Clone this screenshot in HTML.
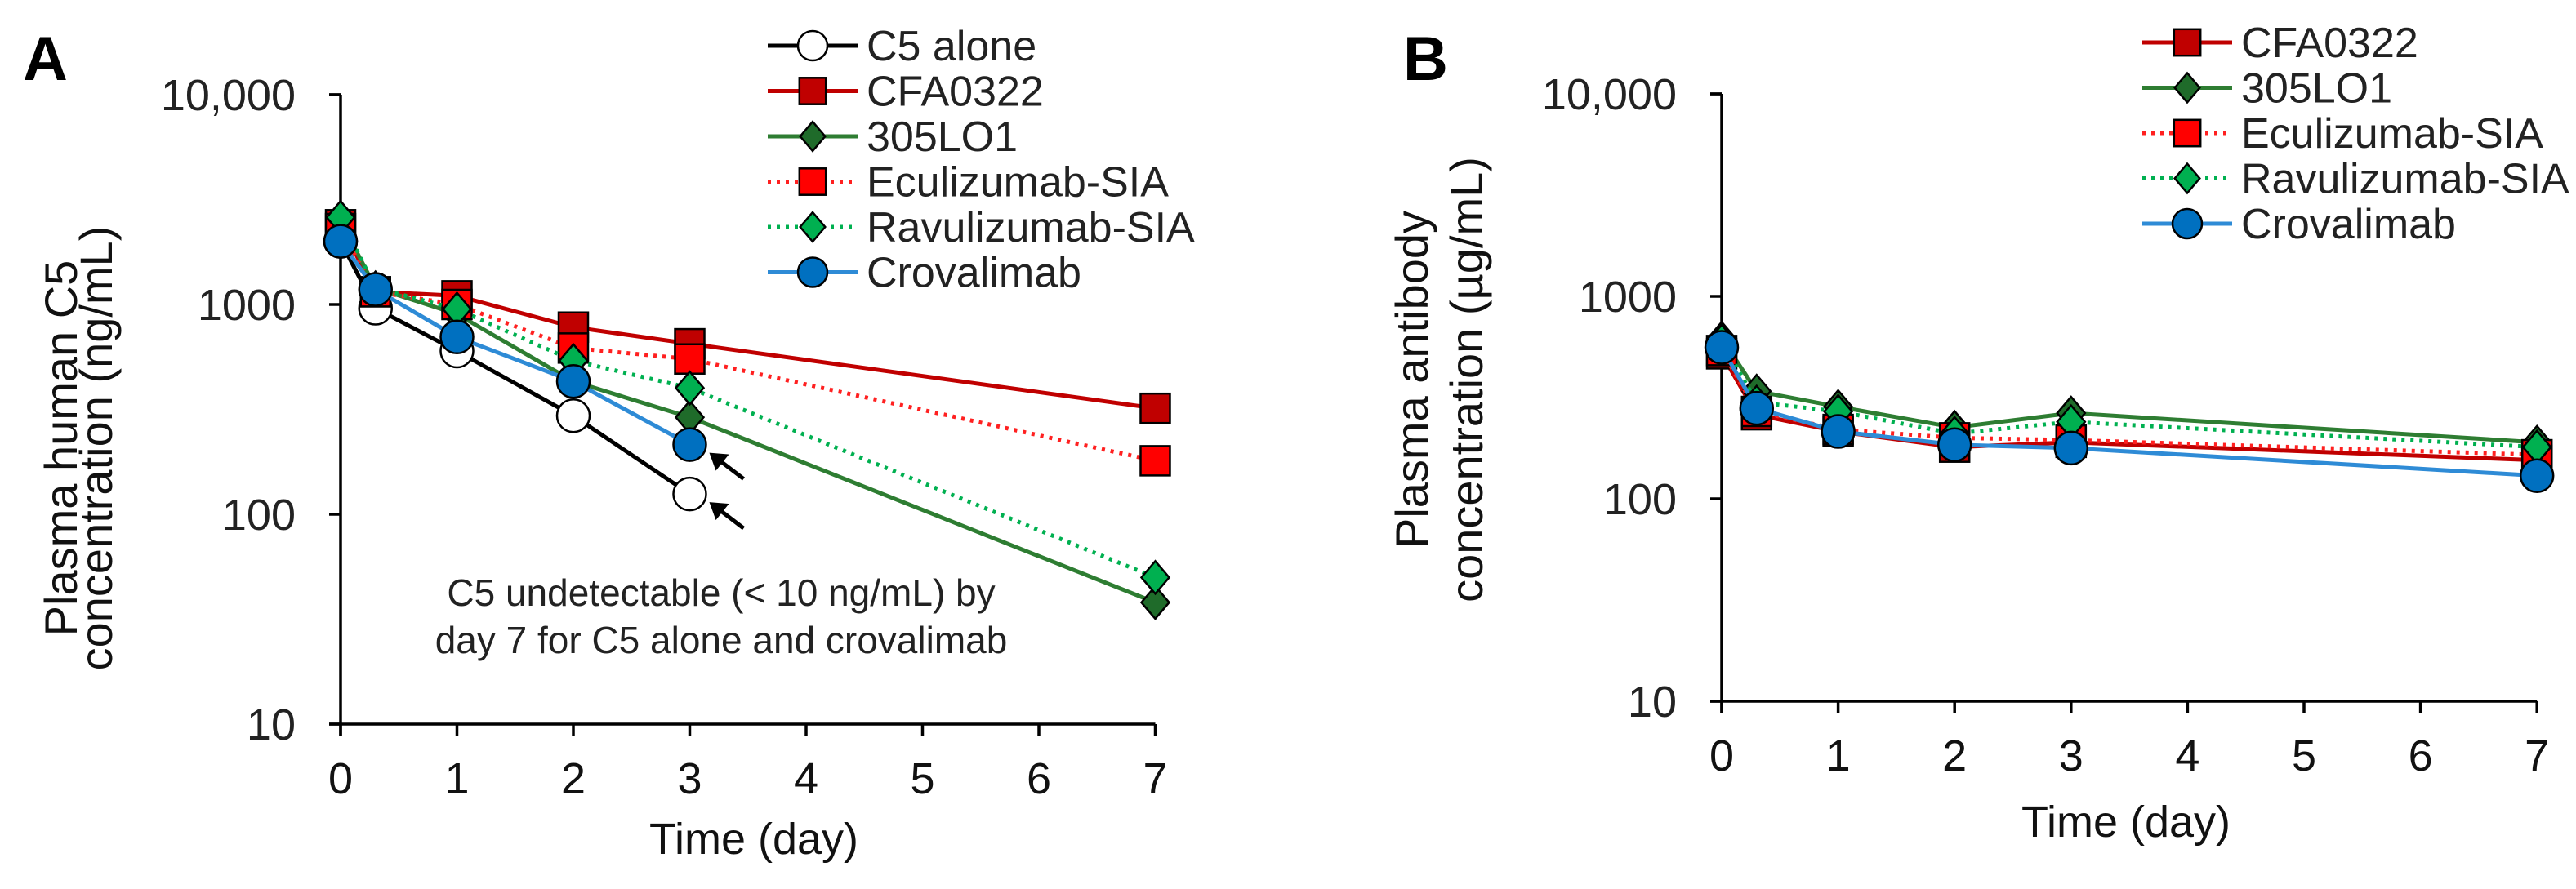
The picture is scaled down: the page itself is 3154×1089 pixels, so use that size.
<!DOCTYPE html>
<html><head><meta charset="utf-8"><style>
html,body{margin:0;padding:0;background:#fff;}
svg{display:block;font-family:"Liberation Sans",Arial,sans-serif;}
</style></head><body>
<svg id="fig" width="3154" height="1089" viewBox="0 0 3154 1089"></svg>
<script>
const days = [0, 0.3, 1, 2, 3, 7];
const xTicks = [0,1,2,3,4,5,6,7];
const yTicksA = [10, 100, 1000, 10000];
const yTickLabelsA = ["10","100","1000","10,000"];
const c5Alone = [2000, 960, 600, 295, 125];
const cfaA = [2400, 1150, 1100, 780, 650, 320];
const l305A = [2500, 1200, 900, 430, 290, 38];
const ecuA = [2300, 1150, 1000, 620, 550, 180];
const ravA = [2600, 1200, 950, 540, 400, 50];
const crovA = [2000, 1180, 700, 430, 215];
const cfaB = [520, 260, 215, 180, 190, 155];
const l305B = [620, 340, 285, 225, 265, 190];
const ecuB = [540, 270, 220, 200, 195, 165];
const ravB = [600, 300, 270, 210, 240, 180];
const crovB = [560, 280, 215, 185, 178, 130];

const NS="http://www.w3.org/2000/svg";
const svg=document.getElementById('fig');
function el(tag,attrs,parent){const e=document.createElementNS(NS,tag);for(const k in attrs)e.setAttribute(k,attrs[k]);(parent||svg).appendChild(e);return e;}
function txt(s,attrs,parent){const e=el('text',attrs,parent);e.textContent=s;return e;}

const styles={
 c5:{line:'#000',dash:null,marker:'circle',fill:'#fff'},
 cfa:{line:'#c00000',dash:null,marker:'square',fill:'#c00000'},
 l305:{line:'#2e7d32',dash:null,marker:'diamond',fill:'#1f6b2a'},
 ecu:{line:'#ff2020',dash:'4 7',marker:'square',fill:'#ff0000'},
 rav:{line:'#00b050',dash:'4 7',marker:'diamond',fill:'#00b050'},
 crov:{line:'#2e8bd6',dash:null,marker:'circle',fill:'#0070c0'}
};
function marker(g,type,x,y,fill,r){
 let m;
 if(type==='circle')m=el('circle',{cx:x,cy:y,r:r,fill:fill,stroke:'#000','stroke-width':2.5},g);
 else if(type==='square')m=el('rect',{x:x-r*0.9,y:y-r*0.9,width:r*1.8,height:r*1.8,fill:fill,stroke:'#000','stroke-width':2.5},g);
 else m=el('polygon',{points:`${x},${y-r} ${x+r*0.85},${y} ${x},${y+r} ${x-r*0.85},${y}`,fill:fill,stroke:'#000','stroke-width':2.5},g);
 
 
}
function panel(P){
 const g=el('g',{});
 
 
 const xs=d=>P.x0+d*P.dx;
 const ys=v=>P.yb-(Math.log10(v)-1)*P.dec;
 const ax=el('path',{d:`M${P.x0} ${ys(10000)} H${P.x0-14} M${P.x0} ${ys(10000)} V${P.yb+14} M${P.x0-14} ${P.yb} H${xs(7)}`,stroke:'#000','stroke-width':3.5,fill:'none'},g);
 
 yTicksA.forEach((v,i)=>{
  el('line',{x1:P.x0-14,x2:P.x0,y1:ys(v),y2:ys(v),stroke:'#000','stroke-width':3.5},g);
  const t=txt(yTickLabelsA[i],{x:P.x0-55,y:ys(v)+19,'font-size':54,'text-anchor':'end',fill:'#222'},g);
  
 });
 xTicks.forEach(d=>{
  el('line',{x1:xs(d),x2:xs(d),y1:P.yb,y2:P.yb+14,stroke:'#000','stroke-width':3.5},g);
  const t=txt(String(d),{x:xs(d),y:P.xlabY,'font-size':54,'text-anchor':'middle',fill:'#111'},g);
  
 });
 const xt=txt('Time (day)',{x:P.xtX,y:P.xtY,'font-size':54,'text-anchor':'middle',fill:'#111'},g);
 
 P.ytitle.forEach((s,i)=>{
  const t=txt(s,{x:0,y:0,'font-size':56,'text-anchor':'middle',fill:'#111',transform:`translate(${P.ytX[i]},${P.ytY}) rotate(-90)`},g);
  
 });
 const pl=txt(P.label,{x:P.labX,y:P.labY,'font-size':76,'font-weight':'bold',fill:'#000'},g);
 
 P.series.forEach(s=>{
  const st=styles[s.key];
  const sg=el('g',{},g);
  
  
  const pts=s.vals.map((v,i)=>[xs(days[i]),ys(v)]);
  const ln=el('polyline',{points:pts.map(p=>p.join(',')).join(' '),fill:'none',stroke:st.line,'stroke-width':5},sg);
  if(st.dash)ln.setAttribute('stroke-dasharray',st.dash);
  
  pts.forEach(p=>marker(sg,st.marker,p[0],p[1],st.fill,P.r));
 });
 P.legend.forEach((k,i)=>{
  const st=styles[k.key];const y=P.legY+i*P.legDy;
  const lg=el('g',{},g);
  
  
  const l=el('line',{x1:P.legX-55,x2:P.legX+55,y1:y,y2:y,stroke:st.line,'stroke-width':5},lg);
  if(st.dash)l.setAttribute('stroke-dasharray',st.dash);
  marker(lg,st.marker,P.legX,y,st.fill,18);
  txt(k.label,{x:P.legX+66,y:y+18,'font-size':52,fill:'#222'},lg);
 });
 return {g,xs,ys};
}
const A=panel({name:'panel-a',label:'A',labX:28,labY:98,x0:417,dx:142.5,yb:887,dec:257,xlabY:972,xtX:923,xtY:1046,
 ytitle:['Plasma human C5','concentration (ng/mL)'],ytX:[94,137],ytY:549,r:20,
 series:[{key:'c5',label:'C5-alone',vals:c5Alone},{key:'cfa',label:'CFA0322',vals:cfaA},{key:'l305',label:'305LO1',vals:l305A},
 {key:'ecu',label:'Eculizumab-SIA',vals:ecuA},{key:'rav',label:'Ravulizumab-SIA',vals:ravA},{key:'crov',label:'Crovalimab',vals:crovA}],
 legend:[{key:'c5',label:'C5 alone'},{key:'cfa',label:'CFA0322'},{key:'l305',label:'305LO1'},{key:'ecu',label:'Eculizumab-SIA'},{key:'rav',label:'Ravulizumab-SIA'},{key:'crov',label:'Crovalimab'}],
 legX:995,legY:56,legDy:55.5});
const B=panel({name:'panel-b',label:'B',labX:1718,labY:98,x0:2108,dx:142.6,yb:859,dec:248,xlabY:944,xtX:2603,xtY:1025,
 ytitle:['Plasma antibody','concentration (µg/mL)'],ytX:[1748,1815],ytY:465,r:20,
 series:[{key:'cfa',label:'CFA0322',vals:cfaB},{key:'l305',label:'305LO1',vals:l305B},{key:'ecu',label:'Eculizumab-SIA',vals:ecuB},
 {key:'rav',label:'Ravulizumab-SIA',vals:ravB},{key:'crov',label:'Crovalimab',vals:crovB}],
 legend:[{key:'cfa',label:'CFA0322'},{key:'l305',label:'305LO1'},{key:'ecu',label:'Eculizumab-SIA'},{key:'rav',label:'Ravulizumab-SIA'},{key:'crov',label:'Crovalimab'}],
 legX:2678,legY:52,legDy:55.5});
const an=el('g',{});


txt('C5 undetectable (< 10 ng/mL) by',{x:883,y:742,'font-size':46,'text-anchor':'middle',fill:'#222'},an);
txt('day 7 for C5 alone and crovalimab',{x:883,y:800,'font-size':46,'text-anchor':'middle',fill:'#222'},an);
[[A.xs(3)+24,A.ys(crovA[4])+10],[A.xs(3)+24,A.ys(c5Alone[4])+10]].forEach(p=>{
 const ar=el('g',{},an);
 
 
 el('line',{x1:p[0]+8,y1:p[1]+6,x2:p[0]+42,y2:p[1]+32,stroke:'#000','stroke-width':5},ar);
 el('polygon',{points:`${p[0]},${p[1]} ${p[0]+24},${p[1]+2} ${p[0]+8},${p[1]+22}`,fill:'#000'},ar);
});
</script>
</body></html>
